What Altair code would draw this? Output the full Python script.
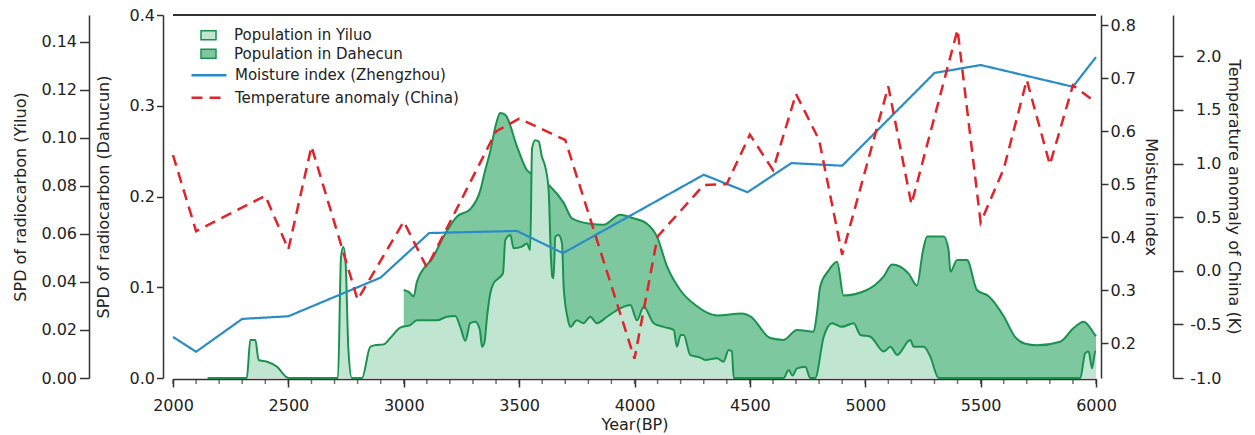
import altair as alt
import pandas as pd

# ---------------- data ----------------
yiluo_year = [2150, 2320, 2335, 2357, 2371, 2407, 2451, 2490, 2500, 2715, 2728, 2738, 2748, 2760, 2775,
              2819, 2855, 2877, 2913, 2942, 2985, 3028, 3057, 3144, 3187, 3223, 3245, 3267, 3288, 3310,
              3330, 3339, 3350, 3361, 3375, 3389, 3411, 3430, 3440, 3462, 3476, 3512, 3534, 3548, 3556,
              3570, 3585, 3599, 3613, 3628, 3638, 3644, 3649, 3657, 3671, 3686, 3693, 3710, 3722, 3750,
              3779, 3808, 3837, 3881, 3938, 3982, 4011, 4040, 4083, 4126, 4170, 4184, 4200, 4213, 4242,
              4285, 4307, 4357, 4386, 4408, 4422, 4430, 4646, 4668, 4685, 4704, 4740, 4762, 4783, 4820,
              4856, 4899, 4950, 4979, 5022, 5080, 5109, 5138, 5195, 5210, 5253, 5282, 5318, 5932, 5953,
              5968, 5983, 5997, 6000]
yiluo_spd = [0.0, 0.0, 0.0158, 0.0158, 0.0075, 0.0068, 0.0047, 0.0005, 0.0, 0.0, 0.050, 0.0545, 0.048, 0.012, 0.0,
             0.0, 0.013, 0.0137, 0.014, 0.0167, 0.021, 0.022, 0.024, 0.024, 0.0255, 0.0258, 0.0213, 0.0155, 0.0228, 0.0234,
             0.020, 0.013, 0.015, 0.0255, 0.0353, 0.0394, 0.0415, 0.0436, 0.0574, 0.0595, 0.054, 0.0547, 0.056, 0.0533, 0.0956,
             0.099, 0.0984, 0.092, 0.088, 0.078, 0.050, 0.042, 0.0415, 0.0588, 0.0595, 0.056, 0.038, 0.025, 0.0213, 0.024,
             0.0228, 0.0255, 0.0228, 0.0255, 0.029, 0.0304, 0.024, 0.0297, 0.0228, 0.0213, 0.020, 0.013, 0.0179, 0.0179, 0.0095,
             0.0085, 0.0075, 0.0082, 0.0068, 0.0117, 0.011, 0.0, 0.0, 0.0033, 0.001, 0.004, 0.0047, 0.0, 0.0, 0.0172,
             0.0228, 0.0213, 0.0228, 0.0179, 0.0172, 0.011, 0.013, 0.0096, 0.0158, 0.013, 0.013, 0.0089, 0.0, 0.0, 0.0103,
             0.011, 0.004, 0.011, 0.011]

dahecun_year = [3000, 3021, 3043, 3057, 3129, 3173, 3231, 3288, 3332, 3350, 3375, 3400, 3418, 3440, 3491,
                3534, 3548, 3590, 3635, 3693, 3729, 3808, 3866, 3938, 3996, 4054, 4097, 4141, 4198, 4271,
                4314, 4357, 4466, 4502, 4589, 4646, 4704, 4776, 4790, 4805, 4840, 4878, 4906, 5007, 5080,
                5116, 5188, 5224, 5250, 5268, 5340, 5361, 5369, 5398, 5441, 5484, 5535, 5600, 5650, 5690,
                5744, 5845, 5903, 5946, 5997, 6000]
dahecun_spd = [0.097, 0.095, 0.090, 0.106, 0.134, 0.156, 0.178, 0.186, 0.207, 0.226, 0.250, 0.280, 0.292, 0.290, 0.255,
               0.229, 0.226, 0.220, 0.211, 0.193, 0.176, 0.170, 0.169, 0.180, 0.176, 0.170, 0.156, 0.123, 0.097, 0.079,
               0.072, 0.069, 0.071, 0.068, 0.044, 0.042, 0.053, 0.051, 0.070, 0.101, 0.118, 0.128, 0.091, 0.097, 0.112,
               0.125, 0.115, 0.102, 0.140, 0.156, 0.156, 0.141, 0.117, 0.130, 0.130, 0.097, 0.090, 0.068, 0.045, 0.038,
               0.036, 0.040, 0.055, 0.062, 0.047, 0.046]

moist_year = [2000, 2100, 2300, 2500, 2670, 2900, 3110, 3490, 3690, 4300, 4490, 4680, 4900, 5300, 5500, 5900, 6000]
moisture = [0.212, 0.184, 0.246, 0.251, 0.282, 0.324, 0.408, 0.412, 0.370, 0.518, 0.485, 0.540, 0.535, 0.710, 0.725, 0.684, 0.740]

temp_year = [2000, 2100, 2400, 2500, 2600, 2800, 3000, 3100, 3400, 3500, 3700, 4000, 4100, 4300, 4400, 4500,
             4600, 4700, 4800, 4900, 5100, 5200, 5400, 5500, 5600, 5700, 5800, 5900, 6000]
temperature = [1.08, 0.37, 0.70, 0.20, 1.16, -0.27, 0.46, 0.03, 1.30, 1.42, 1.22, -0.82, 0.32, 0.80, 0.81, 1.27,
               0.94, 1.65, 1.22, 0.15, 1.72, 0.62, 2.25, 0.45, 0.95, 1.78, 0.99, 1.73, 1.57]

minor_ticks = list(range(2000, 6001, 100))
major_ticks = list(range(2000, 6001, 500))

S_YILUO = "Population in Yiluo"
S_DAHE = "Population in Dahecun"
S_MOIST = "Moisture index (Zhengzhou)"
S_TEMP = "Temperature anomaly (China)"

# ---------------- style ----------------
W, H = 923, 363
FONT = "DejaVu Sans"
AX = "#333333"
TXT = "#222222"
GREEN = "#1b9150"
LIGHT = "#c0e6d2"
DARK = "#7ec8a0"
BLUE = "#2a8cc6"
RED = "#e0242a"

df_y = pd.DataFrame({"year": yiluo_year, "v": yiluo_spd, "series": S_YILUO})
df_d = pd.DataFrame({"year": dahecun_year, "v": dahecun_spd, "series": S_DAHE})
df_m = pd.DataFrame({"year": moist_year, "v": moisture, "series": S_MOIST})
df_t = pd.DataFrame({"year": temp_year, "v": temperature, "series": S_TEMP})
df_ticks = pd.DataFrame({"year": minor_ticks})

axis_common = dict(domainColor=AX, tickColor=AX, domainWidth=1.5, tickWidth=1.5,
                   labelFont=FONT, labelFontSize=16, labelColor=TXT,
                   titleFont=FONT, titleFontSize=16, titleFontWeight="normal", titleColor=TXT,
                   grid=False)

X = alt.X("year:Q",
          scale=alt.Scale(domain=[2000, 6000], nice=False, zero=False),
          axis=alt.Axis(title="Year(BP)", values=major_ticks, format="d", offset=1, tickSize=8,
                        labelPadding=10, labelFlush=False, labelOverlap=False,
                        titleY=45, titleBaseline="middle", **axis_common))

fill_scale = alt.Scale(domain=[S_YILUO, S_DAHE], range=[LIGHT, DARK])
fill_legend = alt.Legend(orient="none", legendX=27, legendY=11.75, title=None,
                         symbolType="M-1,-0.6H1V0.6H-1Z", symbolSize=225,
                         symbolStrokeColor=GREEN, symbolStrokeWidth=1.5, symbolOpacity=1,
                         labelFont=FONT, labelFontSize=15, labelColor=TXT, labelOffset=17,
                         labelLimit=400, rowPadding=1.5, padding=0)

stroke_scale = alt.Scale(domain=[S_MOIST, S_TEMP], range=[BLUE, RED])
dash_scale = alt.Scale(domain=[S_MOIST, S_TEMP], range=[[1, 0], [11, 7]])
line_legend = alt.Legend(orient="none", legendX=27.5, legendY=51.75, title=None,
                         symbolType="M-2.5,0H2.5", symbolSize=196, symbolStrokeWidth=2.5,
                         labelFont=FONT, labelFontSize=15, labelColor=TXT, labelOffset=17.5,
                         labelLimit=400, rowPadding=5.5, padding=0)

y_dahe_scale = alt.Scale(domain=[0, 0.4], nice=False, zero=False)
y_yiluo_scale = alt.Scale(domain=[0, 0.1511], nice=False, zero=False)

MINUS_FIX = "replace(format(datum.value, '.1f'), '\u2212', '-')"

dahe_area = alt.Chart(df_d).mark_area(interpolate="monotone").encode(
    x=X,
    y=alt.Y("v:Q", scale=y_dahe_scale,
            axis=alt.Axis(orient="left", offset=10, values=[0, 0.1, 0.2, 0.3, 0.4], format=".1f",
                          tickSize=6.5, labelPadding=2, title="SPD of radiocarbon (Dahucun)",
                          titleAngle=-90, titleX=-59.3, titleBaseline="middle", **axis_common)),
    fill=alt.Fill("series:N", scale=fill_scale, legend=fill_legend),
)
dahe_line = alt.Chart(df_d).mark_line(interpolate="monotone", color=GREEN, strokeWidth=2).encode(
    x=X, y=alt.Y("v:Q", scale=y_dahe_scale, axis=None))

yiluo_area = alt.Chart(df_y).mark_area(interpolate="monotone").encode(
    x=X,
    y=alt.Y("v:Q", scale=y_yiluo_scale,
            axis=alt.Axis(orient="left", offset=84, values=[0, 0.02, 0.04, 0.06, 0.08, 0.10, 0.12, 0.14],
                          format=".2f", tickSize=9.5, labelPadding=3, title="SPD of radiocarbon (Yiluo)",
                          titleAngle=-90, titleX=-68.8, titleBaseline="middle", **axis_common)),
    fill=alt.Fill("series:N", scale=fill_scale, legend=fill_legend),
)
yiluo_line = alt.Chart(df_y).mark_line(interpolate="monotone", color=GREEN, strokeWidth=2).encode(
    x=X, y=alt.Y("v:Q", scale=y_yiluo_scale, axis=None))

moist_line = alt.Chart(df_m).mark_line(strokeWidth=2.2).encode(
    x=X,
    y=alt.Y("v:Q", scale=alt.Scale(domain=[0.1345, 0.8194], nice=False, zero=False),
            axis=alt.Axis(orient="right", offset=5, values=[0.2, 0.3, 0.4, 0.5, 0.6, 0.7, 0.8], format=".1f",
                          tickSize=7, labelPadding=2, title="Moisture index",
                          titleAngle=90, titleX=49.5, titleBaseline="middle", **axis_common)),
    stroke=alt.Stroke("series:N", scale=stroke_scale, legend=line_legend),
    strokeDash=alt.StrokeDash("series:N", scale=dash_scale, legend=line_legend),
)
temp_line = alt.Chart(df_t).mark_line(strokeWidth=2.5).encode(
    x=X,
    y=alt.Y("v:Q", scale=alt.Scale(domain=[-1, 2.386], nice=False, zero=False),
            axis=alt.Axis(orient="right", offset=77, values=[-1.0, -0.5, 0.0, 0.5, 1.0, 1.5, 2.0],
                          labelExpr=MINUS_FIX,
                          tickSize=10, labelPadding=38, labelAlign="right", title="Temperature anomaly of China (K)",
                          titleAngle=90, titleX=60, titleBaseline="middle", **axis_common)),
    stroke=alt.Stroke("series:N", scale=stroke_scale, legend=line_legend),
    strokeDash=alt.StrokeDash("series:N", scale=dash_scale, legend=line_legend),
)

minor = alt.Chart(df_ticks).mark_tick(color=AX, thickness=1.5, size=5, orient="vertical").encode(
    x=X, y=alt.value(H + 3.5))

top_rule = alt.Chart(df_ticks).mark_rule(color=AX, strokeWidth=1.5).encode(
    x=alt.value(0), x2=alt.value(W), y=alt.value(0))

chart = alt.layer(
    dahe_area, dahe_line, yiluo_area, yiluo_line, moist_line, temp_line, minor, top_rule
).resolve_scale(
    y="independent"
).properties(
    width=W, height=H,
    autosize=alt.AutoSizeParams(type="none"),
    padding={"left": 173, "top": 15, "right": 159, "bottom": 57},
    background="white",
).configure_view(stroke=None)

chart.save("out.html", embed_options={"renderer": "svg", "actions": False})
